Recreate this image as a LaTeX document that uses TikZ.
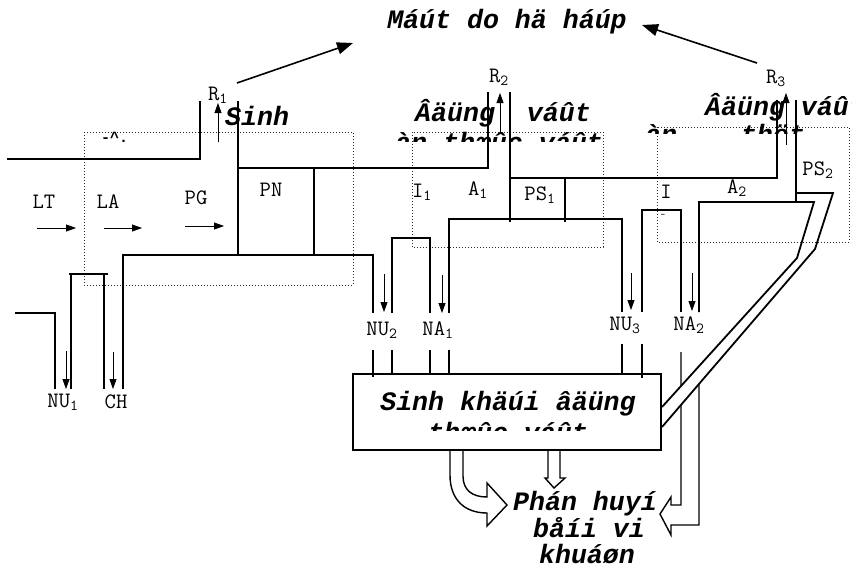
\documentclass[tikz,border=0pt]{standalone}
\usepackage{fontspec}
\newfontfamily\courfont{Liberation Mono}
\usetikzlibrary{arrows.meta, positioning}

\begin{document}
\begin{tikzpicture}[x=1pt, y=-1pt,
  pipe/.style={line width=1.8pt, black},
  zone/.style={line width=1pt, black!85, dash pattern=on 1pt off 2pt},
  flow/.style={-{Triangle[length=10pt, width=7pt]}, line width=0.8pt},
  loss/.style={-{Triangle[length=16pt, width=12pt]}, line width=1.6pt},
  hollow/.style={line width=1.4pt, black},
  lbl/.style={font=\fontsize{22}{24}\selectfont\ttfamily, inner sep=0pt},
  big/.style={font=\fontsize{26.6}{28}\selectfont\courfont\bfseries\itshape, inner sep=0pt}
]
\useasboundingbox (0,0) rectangle (852,568);

%  : -- Respiration losses  : --
\node[big, anchor=base] (loss) at (507,28) {Máút do hä háúp};
\coordinate (lossL) at (353,43);
\coordinate (lossR) at (642,25);
\draw[loss] (237,83) -- (lossL);
\draw[loss] (757,63) -- (lossR);

%  : -- Compartments (dotted)  : --
\draw[zone] (84,132) rectangle (353,285);
\draw[zone] (412,132) rectangle (603,247);
\draw[zone] (657,127) rectangle (849,242);

%  : -- Producers  : --
\node[big, anchor=base west] (sinh) at (225,125) {Sinh};
\node[font=\fontsize{15}{16}\selectfont\courfont\bfseries, anchor=base west, inner sep=0pt] (sinhcut) at (101,142) {-\textasciicircum.};
\draw[pipe] (7,159) -- (200,159) -- (200,101);
\draw[pipe] (238,101) -- (238,255);
\draw[pipe] (238,168) -- (488,168) -- (488,92);
\draw[pipe] (314,168) -- (314,255);
\draw[pipe] (123,389) -- (123,255) -- (373,255) -- (373,313);
\draw[pipe] (15,313) -- (55,313) -- (55,389);
\draw[pipe] (71,389) -- (71,274);
\draw[pipe] (104,274) -- (104,389);
\draw[pipe] (69,274) -- (108,274);

%  : -- Herbivores  : --
\node[big, anchor=base west] (herb) at (415,121) {Âäüng\ \ váût};
\begin{scope}
  \clip (380,125) rectangle (640,141);
  \node[big, anchor=base west] (herbcut) at (395,151) {àn thæûc váût};
\end{scope}
\draw[pipe] (392,313) -- (392,238) -- (430,238) -- (430,313);
\draw[pipe] (449,313) -- (449,219) -- (622,219) -- (622,312);
\draw[pipe] (510,92) -- (510,222);
\draw[pipe] (510,178) -- (777,178) -- (777,100);
\draw[pipe] (565,178) -- (565,222);

%  : -- Carnivores  : --
\node[big, anchor=base west] (carn) at (705,115) {Âäüng váût};
\begin{scope}
  \clip (640,120) rectangle (852,133);
  \node[big, anchor=base west] (carncut) at (645,143) {àn\ \ \ \ thët};
\end{scope}
\draw[pipe] (642,312) -- (642,210) -- (681,210) -- (681,312);

%  : -- Biomass box  : --
\node[draw, line width=1.8pt, minimum width=308, minimum height=76, inner sep=0pt] (biomass) at (507,412) {};
\node[big, anchor=base] (biotxt) at (508,410) {Sinh khäúi âäüng};
\begin{scope}
  \clip (353,380) rectangle (661,430);
  \node[big, anchor=base] (biocut) at (508,441) {thæûc váût};
\end{scope}
\foreach \x/\y in {373/350, 392/350, 430/350, 449/350, 622/344}
  \draw[pipe] (\x,\y) -- (\x,374);
\draw[pipe] (373,374) -- (373,377);
\draw[pipe] (642,344) -- (642,378);

%  : -- Decomposition  : --
\draw[hollow] (450,450) -- (450,475) .. controls (450,500) and (465,513) .. (487,513) -- (487,526) -- (507,505) -- (487,483) -- (487,497) .. controls (472,497) and (463,490) .. (463,476) -- (463,450);
\draw[hollow] (548,450) -- (548,478) -- (545,478) -- (554,488) -- (565,478) -- (560,478) -- (560,450);
\draw[hollow] (681,352) -- (681,505) -- (671,505) -- (671,497) -- (660,514) -- (671,535) -- (671,525) -- (699,525) -- (699,384);
\node[big, anchor=base] (dec1) at (585,510) {Phán huyí};
\node[big, anchor=base] (dec2) at (589,537) {båíi vi};
\node[big, anchor=base] (dec3) at (587,563) {khuáøn};

%  : -- PS2 route back to the biomass box  : --
\fill[white] (814,202) -- (797,258) -- (662,407) -- (662,427) -- (815,249) -- (833,193) -- cycle;
\draw[pipe] (699,312) -- (699,202) -- (814,202) -- (797,258) -- (662,407);
\draw[pipe] (796,100) -- (796,203);
\draw[pipe] (796,193) -- (833,193) -- (815,249) -- (662,427);
\draw[zone] (800,242) -- (820,242);

%  : -- Flow arrows  : --
\foreach \x/\ya/\yb in {218/142/103, 500/132/93, 786/145/93, 66/351/389, 113/352/389, 384/274/312, 442/275/313, 631/273/310, 692/273/311}
  \draw[flow] (\x,\ya) -- (\x,\yb);
\foreach \xa/\xb/\y in {37/76/228, 104/142/228, 185/224/226}
  \draw[flow] (\xa,\y) -- (\xb,\y);

%  : -- Labels  : --
\foreach \n/\x/\y/\t in {r1/218/95/R\textsubscript{1}, r2/499/77/R\textsubscript{2}, r3/776/78/R\textsubscript{3},
    lt/44/202/LT, la/108/202/LA, pg/196/198/PG, pn/271/190/PN,
    i1/422/192/I\textsubscript{1}, a1/478/190/A\textsubscript{1}, ps1/540/195/PS\textsubscript{1},
    i2/666/192/I, a2/737/188/A\textsubscript{2}, ps2/818/170/PS\textsubscript{2},
    nu1/63/402/NU\textsubscript{1}, ch/116/402/CH, nu2/382/330/NU\textsubscript{2}, na1/438/330/NA\textsubscript{1},
    nu3/625/325/NU\textsubscript{3}, na2/689/325/NA\textsubscript{2}}
  \node[lbl] (\n) at (\x,\y) {\t};
\node[lbl, font=\fontsize{9}{10}\selectfont\ttfamily] (i2cut) at (663,216) {-};

\end{tikzpicture}
\end{document}
